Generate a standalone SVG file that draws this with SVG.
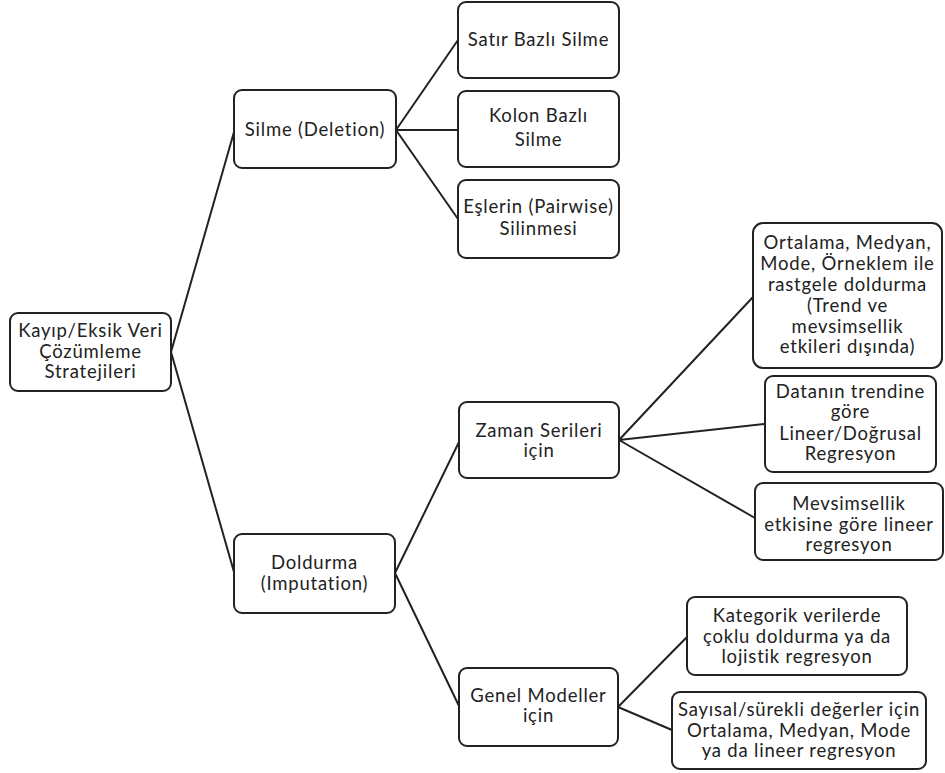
<svg xmlns="http://www.w3.org/2000/svg" width="945" height="773" viewBox="0 0 945 773">
<style>
.box{fill:#fff;stroke:#222;stroke-width:2}
.t{font-family:Lato,"Open Sans","Liberation Sans",sans-serif;font-size:18.5px;letter-spacing:0.8px;fill:#222;text-anchor:middle}
.c{stroke:#222;stroke-width:2;fill:none}
</style>
<rect width="945" height="773" fill="#fff"/>
<g id="connectors">
<path class="c" d="M171,352 L234,132 M171,352 L234,572"/>
<path class="c" d="M396,130 L458,40 M396,130 L458,130 M396,130 L458,219"/>
<path class="c" d="M395,573 L459,442 M395,573 L459,706"/>
<path class="c" d="M619,440 L753,297 M619,440 L765,424 M619,440 L755,518"/>
<path class="c" d="M618,707 L687,637 M618,707 L672,730"/>
</g>
<g id="root"><rect class="box" x="10" y="313" width="161" height="78" rx="8"/>
<text class="t" x="90.5" y="337">Kayıp/Eksik Veri</text><text class="t" x="90.5" y="358">Çözümleme</text><text class="t" x="90.5" y="378">Stratejileri</text></g>
<g id="silme"><rect class="box" x="234" y="90" width="162" height="78" rx="8"/>
<text class="t" x="315" y="136">Silme (Deletion)</text></g>
<g id="satir"><rect class="box" x="458" y="2" width="161" height="76" rx="8"/>
<text class="t" x="538.5" y="46">Satır Bazlı Silme</text></g>
<g id="kolon"><rect class="box" x="458" y="91" width="161" height="76" rx="8"/>
<text class="t" x="538.5" y="122">Kolon Bazlı</text><text class="t" x="538.5" y="146">Silme</text></g>
<g id="esler"><rect class="box" x="458" y="180" width="161" height="78" rx="8"/>
<text class="t" x="538.5" y="213">Eşlerin (Pairwise)</text><text class="t" x="538.5" y="235">Silinmesi</text></g>
<g id="doldurma"><rect class="box" x="234" y="534" width="161" height="79" rx="8"/>
<text class="t" x="314.5" y="569">Doldurma</text><text class="t" x="314.5" y="590">(Imputation)</text></g>
<g id="zaman"><rect class="box" x="459" y="402" width="160" height="76" rx="8"/>
<text class="t" x="539" y="437">Zaman Serileri</text><text class="t" x="539" y="457">için</text></g>
<g id="genel"><rect class="box" x="459" y="668" width="159" height="78" rx="8"/>
<text class="t" x="538.5" y="702">Genel Modeller</text><text class="t" x="538.5" y="722">için</text></g>
<g id="ortalama"><rect class="box" x="753" y="223" width="189" height="145" rx="10"/>
<text class="t" x="847.5" y="249">Ortalama, Medyan,</text><text class="t" x="847.5" y="270">Mode, Örneklem ile</text><text class="t" x="847.5" y="291">rastgele doldurma</text><text class="t" x="847.5" y="312">(Trend ve</text><text class="t" x="847.5" y="333">mevsimsellik</text><text class="t" x="847.5" y="353">etkileri dışında)</text></g>
<g id="datanin"><rect class="box" x="765" y="376" width="171" height="96" rx="8"/>
<text class="t" x="850.5" y="398">Datanın trendine</text><text class="t" x="850.5" y="418">göre</text><text class="t" x="850.5" y="440">Lineer/Doğrusal</text><text class="t" x="850.5" y="460">Regresyon</text></g>
<g id="mevsim"><rect class="box" x="755" y="483" width="188" height="77" rx="8"/>
<text class="t" x="849" y="510">Mevsimsellik</text><text class="t" x="849" y="531">etkisine göre lineer</text><text class="t" x="849" y="551">regresyon</text></g>
<g id="kategorik"><rect class="box" x="687" y="597" width="220" height="78" rx="8"/>
<text class="t" x="797" y="622">Kategorik verilerde</text><text class="t" x="797" y="643">çoklu doldurma ya da</text><text class="t" x="797" y="663">lojistik regresyon</text></g>
<g id="sayisal"><rect class="box" x="672" y="692" width="254" height="77" rx="8"/>
<text class="t" x="799" y="716">Sayısal/sürekli değerler için</text><text class="t" x="799" y="737">Ortalama, Medyan, Mode</text><text class="t" x="799" y="757">ya da lineer regresyon</text></g>
</svg>
